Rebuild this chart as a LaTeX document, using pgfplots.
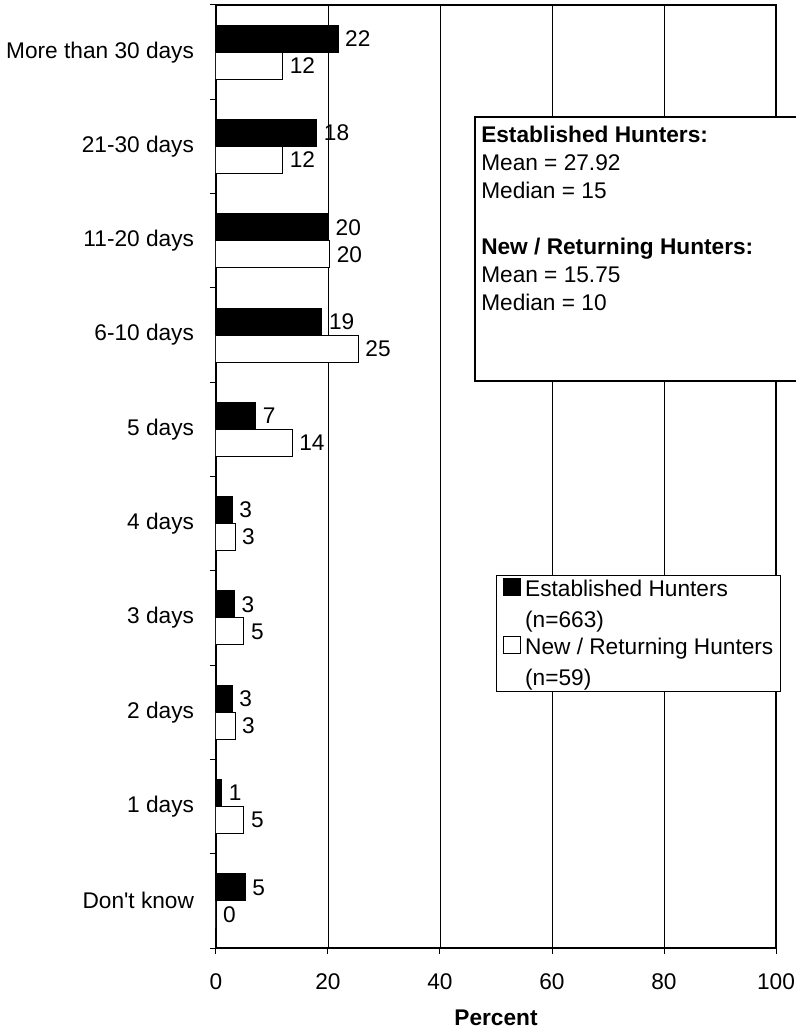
\documentclass[border=0pt]{standalone}
\usepackage{fontspec}
\setmainfont{Liberation Sans}
\usepackage{pgfplots}
\pgfplotsset{compat=1.18}
\usepackage{pgfplotstable}
\usetikzlibrary{calc}

\pgfplotstableread{
y est new
9 21.8 11.9
8 18.0 11.9
7 20.1 20.3
6 18.9 25.4
5 7.1 13.6
4 2.9 3.4
3 3.3 5.0
2 2.9 3.4
1 1.0 5.0
0 5.2 0.0
}\datatable

\begin{document}
\begin{tikzpicture}[font=\fontsize{17}{21}\selectfont]
\begin{axis}[
  name=ax,
  scale only axis,
  width=420pt, height=707.25pt,
  xbar,
  xmin=0, xmax=100, ymin=-0.5, ymax=9.5,
  bar width=0.286,
  xtick={0,20,40,60,80,100},
  ytick={0,...,9},
  yticklabels={Don\textquotesingle t know,1 days,2 days,3 days,4 days,5 days,6-10 days,11-20 days,21-30 days,More than 30 days},
  minor ytick={-0.5,0.5,...,9.5},
  ytick style={draw=none},
  minor y tick style={draw=black, line width=0.75pt},
  xtick style={draw=black, line width=0.75pt},
  tick align=outside,
  major tick length=4.5pt,
  minor tick length=4.5pt,
  xtick pos=bottom, ytick pos=left,
  xmajorgrids,
  major x grid style={black, line width=0.6pt},
  axis line style={black, line width=1.1pt},
  /pgf/number format/assume math mode=true,
  yticklabel style={xshift=-8.5pt},
  xticklabel style={yshift=-11pt},
  xlabel={\bfseries Percent},
  xlabel style={at={(axis description cs:0.5,0)}, anchor=center, yshift=-52.5pt},
  point meta=x,
  nodes near coords={\pgfmathprintnumber[fixed,precision=0]{\pgfplotspointmeta}},
  every node near coord/.append style={anchor=west, inner sep=2pt, xshift=3pt, black},
  legend style={at={(axis description cs:0.5,0.3955)}, anchor=north west,
    draw=black, line width=0.75pt, inner xsep=3pt, inner ysep=1pt,
    font=\fontsize{17}{23.5}\selectfont, row sep=1.5pt,
    cells={anchor=north west, align=left}},
  legend image code/.code={\path[draw=none,fill=none] (-2.5pt,0pt) rectangle (14pt,-1pt); \draw[#1, line width=0.75pt] (0pt,-14pt) rectangle (12.5pt,-1.5pt);},
]
\addplot[fill=black, draw=black, line width=0.75pt, bar shift=0.143] table[x=est, y=y]{\datatable};
\addlegendentry{Established Hunters\\(n=663)}
\addplot[fill=white, draw=black, line width=0.75pt, bar shift=-0.143] table[x=new, y=y]{\datatable};
\addlegendentry{New / Returning Hunters\\(n=59)}
\end{axis}
\draw[line width=0.9pt, fill=white] ($(ax.south west)+(194.25pt,425.25pt)$) rectangle ($(ax.south west)+(500pt,623.25pt)$);
\node[anchor=north west, align=left, inner sep=0pt, font=\fontsize{17}{21}\selectfont]
  at ($(ax.south west)+(198.75pt,616.5pt)$)
  {\textbf{Established Hunters:}\\Mean = 27.92\\Median = 15\\[21pt]\textbf{New / Returning Hunters:}\\Mean = 15.75\\Median = 10};
\pgfresetboundingbox
\path ($(ax.south west)+(-162pt,-63pt)$) rectangle ++(597pt,774pt);
\end{tikzpicture}
\end{document}
